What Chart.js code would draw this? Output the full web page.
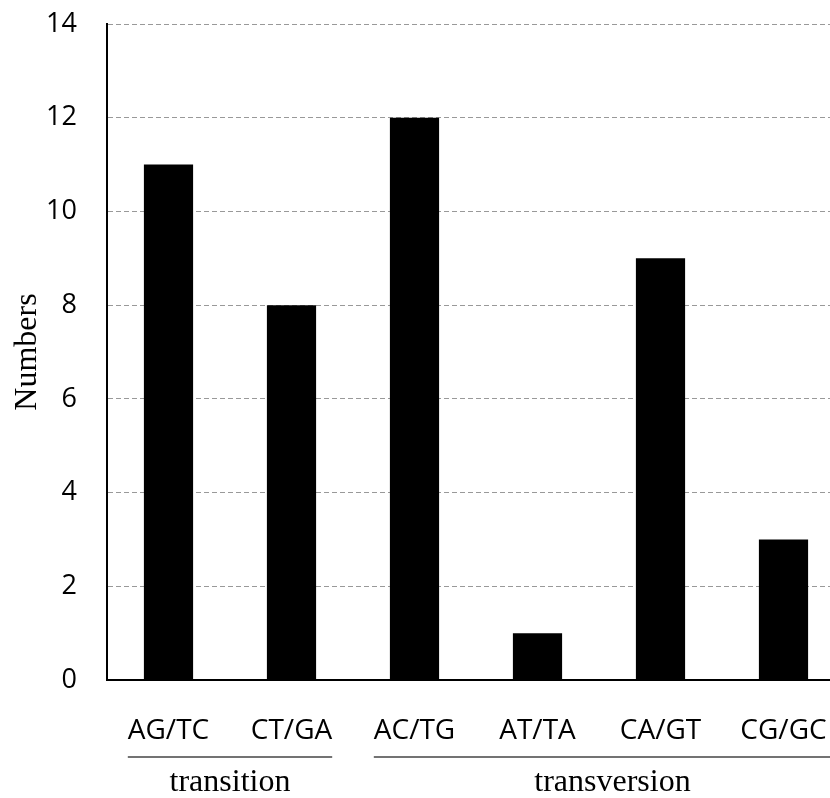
<!DOCTYPE html>
<html>
<head>
<meta charset="utf-8">
<script src="https://cdn.jsdelivr.net/npm/chart.js@4/dist/chart.umd.min.js"></script>
<style>
  html, body { margin: 0; padding: 0; background: #fff; overflow: hidden; }
  #wrap { width: 830px; height: 798px; overflow: hidden; }
  #wrap div { width: 860px; height: 798px; }
</style>
</head>
<body>
<div id="wrap"><div><canvas id="chart"></canvas></div></div>
<script>
const categories = ["AG/TC", "CT/GA", "AC/TG", "AT/TA", "CA/GT", "CG/GC"];
const counts = [11, 8, 12, 1, 9, 3];
const yTicks = [0, 2, 4, 6, 8, 10, 12, 14];
// group name, first and last category index
const groupNames = ["transition", "transversion"];
const groupFirst = [0, 2];
const groupLast = [1, 5];

const sansFont = "'Open Sans', 'Noto Sans', sans-serif";
const serifFont = "'Liberation Serif', 'DejaVu Serif', serif";

// draws the underline + group name under the category labels
const groupLabels = {
    id: "groupLabels",
    afterDraw(chart) {
        const ctx = chart.ctx;
        const xs = chart.scales.x;
        const step = xs.getPixelForValue(1) - xs.getPixelForValue(0);
        ctx.save();
        ctx.font = `28px ${sansFont}`;
        groupNames.forEach((name, g) => {
            const firstW = ctx.measureText(categories[groupFirst[g]]).width;
            const lastW = ctx.measureText(categories[groupLast[g]]).width;
            let x0 = xs.getPixelForValue(groupFirst[g]) - firstW / 2;
            let x1 = xs.getPixelForValue(groupLast[g]) + lastW / 2;
            if (g === groupNames.length - 1) x1 = xs.getPixelForValue(groupLast[g]) + step * 0.55;
            ctx.strokeStyle = "#444";
            ctx.lineWidth = 1.5;
            ctx.beginPath();
            ctx.moveTo(x0, 757);
            ctx.lineTo(x1, 757);
            ctx.stroke();
            ctx.fillStyle = "#000";
            ctx.font = `32px ${serifFont}`;
            ctx.textAlign = "center";
            ctx.textBaseline = "middle";
            ctx.fillText(name, (x0 + x1) / 2, 783);
            ctx.font = `28px ${sansFont}`;
        });
        ctx.restore();
    },
};

new Chart(document.getElementById("chart"), {
    type: "bar",
    data: {
        labels: categories,
        datasets: [
            {
                data: counts,
                backgroundColor: "#000",
                borderWidth: 0,
                barPercentage: 0.4,
                categoryPercentage: 1,
            },
        ],
    },
    options: {
        responsive: true,
        maintainAspectRatio: false,
        animation: false,
        layout: { padding: { top: 24, right: 15, left: 0, bottom: 0 } },
        plugins: {
            legend: { display: false },
            tooltip: { enabled: false },
        },
        scales: {
            x: {
                grid: { display: false, drawTicks: false },
                border: { color: "#000", width: 2 },
                ticks: {
                    color: "#000",
                    font: { family: sansFont, size: 28 },
                    padding: 34,
                    maxRotation: 0,
                    autoSkip: false,
                },
                afterFit: (scale) => {
                    scale.height = 118;
                    scale.paddingLeft = 0;
                    scale.paddingRight = 0;
                },
            },
            y: {
                min: 0,
                max: 14,
                afterBuildTicks: (scale) => {
                    scale.ticks = yTicks.map((v) => ({ value: v }));
                },
                grid: {
                    drawTicks: false,
                    color: (c) => (c.tick && c.tick.value === 0 ? "rgba(0,0,0,0)" : "#999"),
                    lineWidth: 1,
                },
                border: { color: "#000", width: 2, dash: [5, 3], dashOffset: 0 },
                ticks: {
                    color: "#000",
                    font: { family: sansFont, size: 27 },
                    padding: 30,
                },
                title: {
                    display: true,
                    text: "Numbers",
                    color: "#000",
                    font: { family: serifFont, size: 32 },
                    padding: { top: 8, bottom: 0 },
                },
                afterFit: (scale) => {
                    scale.width = 107;
                    scale.paddingTop = 0;
                    scale.paddingBottom = 0;
                },
            },
        },
    },
    plugins: [groupLabels],
});
</script>
</body>
</html>
